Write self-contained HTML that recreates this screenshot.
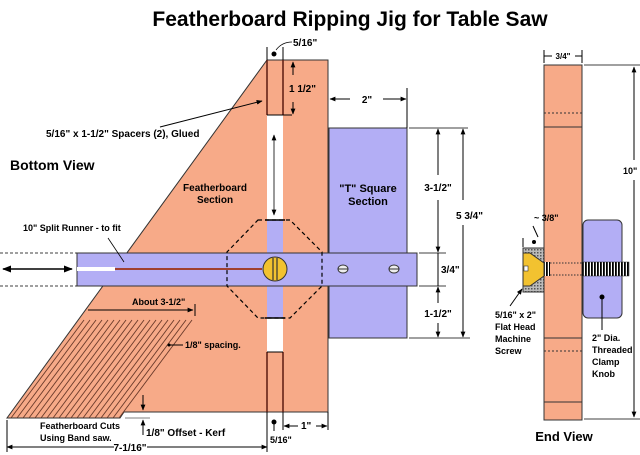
<!DOCTYPE html>
<html><head><meta charset="utf-8"><style>
html,body{margin:0;padding:0;background:#fff;}
svg{display:block;font-family:"Liberation Sans",Arial,sans-serif;font-weight:bold;}
</style></head><body>
<svg width="640" height="455" viewBox="0 0 640 455" xmlns="http://www.w3.org/2000/svg">
<defs>
<marker id="a" viewBox="0 0 10 10" refX="9" refY="5" markerWidth="6" markerHeight="6" orient="auto-start-reverse"><path d="M0,1 L10,5 L0,9 z" fill="#000"/></marker>
<pattern id="h" width="3" height="3" patternUnits="userSpaceOnUse"><rect width="3" height="3" fill="#bbb"/><rect width="1.5" height="1.5" fill="#555"/></pattern>
<pattern id="t" width="3" height="14" patternUnits="userSpaceOnUse"><rect width="3" height="14" fill="#fff"/><rect width="1.8" height="14" fill="#000"/></pattern>
</defs>
<text x="350" y="26" font-size="21" text-anchor="middle">Featherboard Ripping Jig for Table Saw</text>

<!-- board -->
<polygon points="267,60 328,60 328,412 124,412 120,418 7,418" fill="#F7AA88" stroke="#333" stroke-width="1"/>
<!-- feather cuts -->
<g stroke="#6a3a2a" stroke-width="0.9">
<line x1="84" y1="320" x2="11" y2="418"/><line x1="90" y1="320" x2="17" y2="418"/><line x1="96" y1="320" x2="23" y2="418"/><line x1="102" y1="320" x2="29" y2="418"/><line x1="108" y1="320" x2="35" y2="418"/><line x1="114" y1="320" x2="41" y2="418"/><line x1="120" y1="320" x2="47" y2="418"/><line x1="126" y1="320" x2="53" y2="418"/><line x1="132" y1="320" x2="59" y2="418"/><line x1="138" y1="320" x2="65" y2="418"/><line x1="144" y1="320" x2="71" y2="418"/><line x1="150" y1="320" x2="77" y2="418"/><line x1="156" y1="320" x2="83" y2="418"/><line x1="162" y1="320" x2="89" y2="418"/><line x1="168" y1="320" x2="95" y2="418"/><line x1="174" y1="320" x2="101" y2="418"/><line x1="180" y1="320" x2="107" y2="418"/><line x1="186" y1="320" x2="113" y2="418"/><line x1="192" y1="320" x2="119" y2="418"/>
</g>
<!-- slot -->
<rect x="267" y="115" width="16" height="237" fill="#fff"/>
<rect x="267" y="220" width="16" height="98" fill="#B3AEF5"/>
<line x1="267" y1="60" x2="267" y2="115" stroke="#5a1a10" stroke-width="1.5"/><line x1="283" y1="60" x2="283" y2="115" stroke="#5a1a10" stroke-width="1.5"/>
<line x1="267" y1="115" x2="292" y2="115" stroke="#000"/>
<line x1="267" y1="352" x2="267" y2="412" stroke="#5a1a10" stroke-width="1.5"/><line x1="283" y1="352" x2="283" y2="412" stroke="#5a1a10" stroke-width="1.5"/>
<line x1="267" y1="352" x2="283" y2="352" stroke="#000"/>
<line x1="274" y1="135" x2="274" y2="215" stroke="#333" marker-start="url(#a)" marker-end="url(#a)"/>

<!-- T square -->
<rect x="329" y="128" width="78" height="210" fill="#B3AEF5" stroke="#333"/>
<text x="368" y="192" font-size="11" text-anchor="middle">"T" Square</text>
<text x="368" y="205" font-size="11" text-anchor="middle">Section</text>

<!-- runner -->
<rect x="77" y="253" width="340" height="33" fill="#B3AEF5" stroke="#333"/>
<rect x="77" y="267" width="38" height="4" fill="#fff"/>
<line x1="115" y1="269" x2="262" y2="269" stroke="#a04030" stroke-width="2"/>
<circle cx="275" cy="269" r="12" fill="#F2C230" stroke="#333"/>
<line x1="273" y1="258" x2="273" y2="280" stroke="#333" stroke-width="1.2"/><line x1="277" y1="258" x2="277" y2="280" stroke="#333" stroke-width="1.2"/>
<ellipse cx="343" cy="269" rx="5" ry="4" fill="#eee" stroke="#333"/><line x1="338" y1="269" x2="348" y2="269" stroke="#333"/>
<ellipse cx="394" cy="269" rx="5" ry="4" fill="#eee" stroke="#333"/><line x1="389" y1="269" x2="399" y2="269" stroke="#333"/>
<polygon points="258,220 290,220 322,252 322,286 290,318 258,318 227,286 227,252" fill="none" stroke="#000" stroke-dasharray="4,3" stroke-width="1.2"/>
<line x1="265" y1="220" x2="285" y2="220" stroke="#000" stroke-width="1.5"/>
<line x1="265" y1="318" x2="285" y2="318" stroke="#000" stroke-width="1.5"/>

<!-- left -->
<line x1="0" y1="253" x2="77" y2="253" stroke="#000" stroke-dasharray="3,2" stroke-width="0.8"/>
<line x1="0" y1="286" x2="77" y2="286" stroke="#000" stroke-dasharray="3,2" stroke-width="0.8"/>
<line x1="3" y1="269" x2="72" y2="269" stroke="#000" stroke-width="1.5" marker-start="url(#a)" marker-end="url(#a)"/>
<text x="10" y="170" font-size="14">Bottom  View</text>
<text x="23" y="231" font-size="9">10" Split Runner - to fit</text>
<line x1="108" y1="238" x2="124" y2="262" stroke="#000" stroke-width="0.8"/>
<text x="46" y="137" font-size="10">5/16" x 1-1/2" Spacers (2), Glued</text>
<line x1="160" y1="127" x2="262" y2="101" stroke="#000" stroke-width="1" marker-end="url(#a)"/>
<text x="215" y="191" font-size="10" text-anchor="middle">Featherboard</text>
<text x="215" y="203" font-size="10" text-anchor="middle">Section</text>
<text x="132" y="305" font-size="9">About 3-1/2"</text>
<line x1="88" y1="310" x2="193" y2="310" stroke="#000" marker-end="url(#a)"/><line x1="195" y1="304" x2="195" y2="316" stroke="#000"/>
<text x="185" y="348" font-size="9">1/8" spacing.</text>
<line x1="169" y1="345" x2="183" y2="345" stroke="#000"/><circle cx="169" cy="345" r="1.5"/>
<text x="40" y="429" font-size="9">Featherboard Cuts</text>
<text x="40" y="441" font-size="9">Using Band saw.</text>
<line x1="143" y1="395" x2="143" y2="410" stroke="#000" marker-end="url(#a)"/>
<line x1="143" y1="435" x2="143" y2="420" stroke="#000" marker-end="url(#a)"/>
<line x1="125" y1="418" x2="150" y2="418" stroke="#000" stroke-width="0.6"/>
<text x="146" y="436" font-size="10">1/8" Offset - Kerf</text>
<line x1="7" y1="420" x2="7" y2="452" stroke="#000"/>
<line x1="7" y1="447" x2="114" y2="447" stroke="#000" marker-start="url(#a)"/>
<line x1="147" y1="447" x2="267" y2="447" stroke="#000" marker-end="url(#a)"/>
<text x="130" y="451" font-size="10" text-anchor="middle">7-1/16"</text>
<line x1="267" y1="412" x2="267" y2="452" stroke="#000"/>
<line x1="283" y1="412" x2="283" y2="430" stroke="#000"/>
<line x1="328" y1="412" x2="328" y2="430" stroke="#000"/>
<line x1="298" y1="426" x2="284" y2="426" stroke="#000" marker-end="url(#a)"/>
<line x1="316" y1="426" x2="327" y2="426" stroke="#000" marker-end="url(#a)"/>
<text x="301" y="429" font-size="10">1"</text>
<circle cx="274" cy="422" r="2.5"/><line x1="274" y1="422" x2="274" y2="431" stroke="#000"/>
<text x="270" y="443" font-size="9">5/16"</text>

<!-- top dims -->
<line x1="267" y1="47" x2="267" y2="60" stroke="#000"/><line x1="283" y1="47" x2="283" y2="60" stroke="#000"/>
<circle cx="274" cy="54" r="2.5"/>
<path d="M276,50 Q282,42 292,42" fill="none" stroke="#000" stroke-width="0.7"/>
<text x="293" y="46" font-size="10">5/16"</text>
<line x1="293" y1="75" x2="293" y2="62" stroke="#000" marker-end="url(#a)"/>
<line x1="293" y1="102" x2="293" y2="114" stroke="#000" marker-end="url(#a)"/>
<text x="289" y="92" font-size="10">1 1/2"</text>
<line x1="407" y1="88" x2="407" y2="128" stroke="#000"/>
<line x1="350" y1="99" x2="330" y2="99" stroke="#000" marker-end="url(#a)"/>
<line x1="383" y1="99" x2="406" y2="99" stroke="#000" marker-end="url(#a)"/>
<text x="367" y="103" font-size="10" text-anchor="middle">2"</text>
<line x1="409" y1="128" x2="468" y2="128" stroke="#000" stroke-width="0.7"/>
<line x1="419" y1="253" x2="446" y2="253" stroke="#000" stroke-width="0.7"/>
<line x1="419" y1="286" x2="446" y2="286" stroke="#000" stroke-width="0.7"/>
<line x1="409" y1="338" x2="470" y2="338" stroke="#000" stroke-width="0.7"/>
<line x1="438" y1="175" x2="438" y2="129" stroke="#000" marker-end="url(#a)"/>
<line x1="438" y1="200" x2="438" y2="252" stroke="#000" marker-end="url(#a)"/>
<text x="438" y="191" font-size="10" text-anchor="middle">3-1/2"</text>
<line x1="438" y1="253" x2="438" y2="286" stroke="#000"/>
<text x="441" y="273" font-size="10">3/4"</text>
<line x1="438" y1="303" x2="438" y2="287" stroke="#000" marker-end="url(#a)"/>
<line x1="438" y1="323" x2="438" y2="337" stroke="#000" marker-end="url(#a)"/>
<text x="438" y="317" font-size="10" text-anchor="middle">1-1/2"</text>
<line x1="463" y1="200" x2="463" y2="129" stroke="#000" marker-end="url(#a)"/>
<line x1="463" y1="225" x2="463" y2="337" stroke="#000" marker-end="url(#a)"/>
<text x="456" y="219" font-size="10">5 3/4"</text>

<!-- end view -->
<rect x="544" y="65" width="38" height="355" fill="#F7AA88" stroke="#333"/>
<line x1="544" y1="113" x2="582" y2="113" stroke="#333" stroke-dasharray="2,2"/>
<line x1="544" y1="127" x2="582" y2="127" stroke="#333"/>
<line x1="544" y1="338" x2="582" y2="338" stroke="#333"/>
<line x1="544" y1="351" x2="582" y2="351" stroke="#333" stroke-dasharray="2,2"/>
<line x1="544" y1="402" x2="582" y2="402" stroke="#333"/>
<rect x="583" y="220" width="39" height="98" rx="5" fill="#B3AEF5" stroke="#333"/>
<rect x="523" y="248" width="21" height="44" fill="url(#h)" stroke="#333"/>
<polygon points="523,253 530,253 544,263 544,276 530,286 523,286" fill="#F2C230" stroke="#333"/>
<rect x="524" y="266" width="4" height="5" fill="#fff" stroke="#333" stroke-width="0.6"/>
<rect x="544" y="262" width="6" height="14" fill="url(#t)"/>
<rect x="582" y="262" width="47" height="14" fill="url(#t)" stroke="#333" stroke-width="0.5"/>
<line x1="550" y1="263" x2="582" y2="263" stroke="#333" stroke-dasharray="1.5,1.5"/>
<line x1="550" y1="275" x2="582" y2="275" stroke="#333" stroke-dasharray="1.5,1.5"/>
<line x1="544" y1="50" x2="544" y2="63" stroke="#000"/><line x1="582" y1="50" x2="582" y2="63" stroke="#000"/>
<line x1="544" y1="56" x2="552" y2="56" stroke="#000"/><line x1="575" y1="56" x2="582" y2="56" stroke="#000"/>
<text x="563" y="59" font-size="8" text-anchor="middle">3/4"</text>
<line x1="584" y1="65" x2="640" y2="65" stroke="#000" stroke-width="0.7"/>
<line x1="584" y1="419" x2="640" y2="419" stroke="#000" stroke-width="0.7"/>
<line x1="634" y1="160" x2="634" y2="67" stroke="#000" marker-end="url(#a)"/>
<line x1="634" y1="180" x2="634" y2="417" stroke="#000" marker-end="url(#a)"/>
<text x="623" y="174" font-size="9">10"</text>
<text x="534" y="221" font-size="9">~ 3/8"</text>
<line x1="523" y1="238" x2="523" y2="247" stroke="#000"/>
<line x1="533" y1="226" x2="538" y2="237" stroke="#000"/><circle cx="534" cy="242" r="2"/>
<line x1="510" y1="306" x2="522" y2="289" stroke="#000" marker-end="url(#a)"/>
<text x="495" y="318" font-size="9">5/16" x 2"</text>
<text x="495" y="330" font-size="9">Flat Head</text>
<text x="495" y="342" font-size="9">Machine</text>
<text x="495" y="354" font-size="9">Screw</text>
<circle cx="602" cy="297" r="2.5"/><line x1="602" y1="297" x2="602" y2="330" stroke="#000"/>
<text x="592" y="341" font-size="9">2" Dia.</text>
<text x="592" y="353" font-size="9">Threaded</text>
<text x="592" y="365" font-size="9">Clamp</text>
<text x="592" y="377" font-size="9">Knob</text>
<text x="564" y="441" font-size="13" text-anchor="middle">End  View</text>
</svg>
</body></html>
